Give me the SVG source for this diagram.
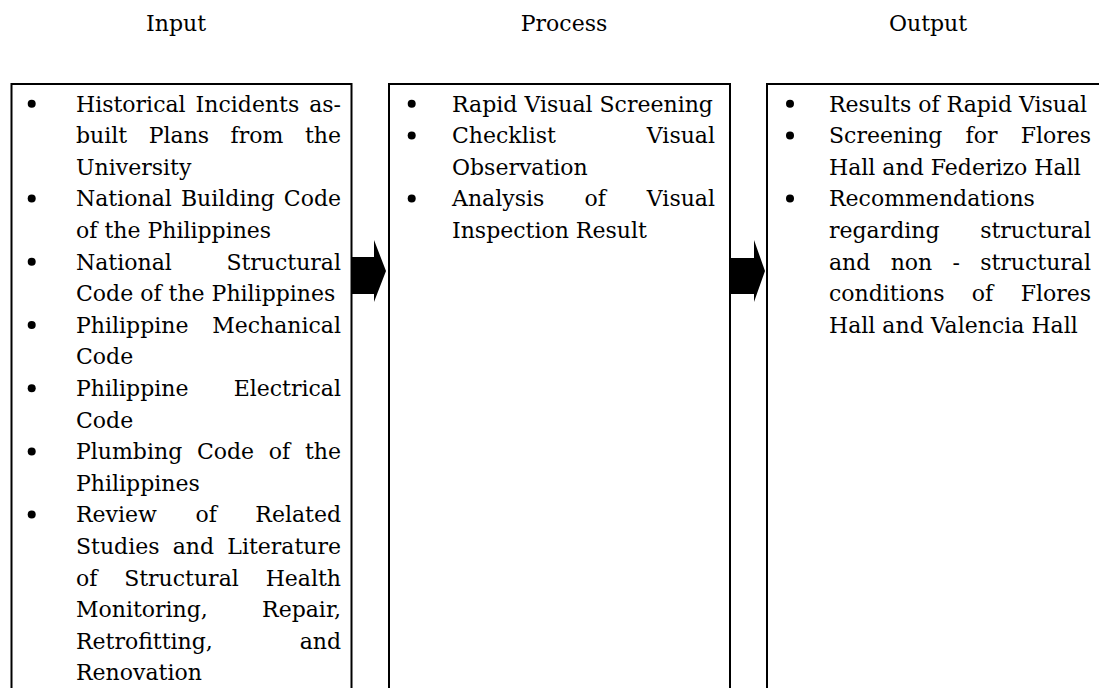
<svg xmlns="http://www.w3.org/2000/svg" width="1099" height="688" viewBox="0 0 1099 688">
<style>
.t{font-family:"DejaVu Serif","Liberation Serif",serif;font-size:22px;fill:#000}
.h{font-family:"DejaVu Serif","Liberation Serif",serif;font-size:22px;fill:#000;text-anchor:middle}
.e{text-anchor:end}
.box{fill:#fff;stroke:#000;stroke-width:2}
.b{fill:#000}
.arr{fill:#000}
</style>
<rect width="1099" height="688" fill="#fff"/>
<g id="headers">
<text class="h" x="176" y="31">Input</text>
<text class="h" x="564" y="31">Process</text>
<text class="h" x="928" y="31">Output</text>
</g>
<g id="input">
<rect class="box" x="11.5" y="84" width="340" height="620"/>
<circle class="b" cx="31.7" cy="103.8" r="4"/>
<circle class="b" cx="31.7" cy="198.6" r="4"/>
<circle class="b" cx="31.7" cy="261.8" r="4"/>
<circle class="b" cx="31.7" cy="325" r="4"/>
<circle class="b" cx="31.7" cy="388.2" r="4"/>
<circle class="b" cx="31.7" cy="451.4" r="4"/>
<circle class="b" cx="31.7" cy="514.6" r="4"/>
<text class="t" x="76" y="111.5">Historical</text><text class="t" x="195.6" y="111.5">Incidents</text><text class="t e" x="341" y="111.5">as-</text>
<text class="t" x="76" y="143.1">built</text><text class="t" x="148.7" y="143.1">Plans</text><text class="t" x="230.6" y="143.1">from</text><text class="t e" x="341" y="143.1">the</text>
<text class="t" x="76" y="174.7">University</text>
<text class="t" x="76" y="206.3">National</text><text class="t" x="180.9" y="206.3">Building</text><text class="t e" x="341" y="206.3">Code</text>
<text class="t" x="76" y="237.9">of the Philippines</text>
<text class="t" x="76" y="269.5">National</text><text class="t e" x="341" y="269.5">Structural</text>
<text class="t" x="76" y="301.1">Code of the Philippines</text>
<text class="t" x="76" y="332.7">Philippine</text><text class="t e" x="341" y="332.7">Mechanical</text>
<text class="t" x="76" y="364.3">Code</text>
<text class="t" x="76" y="395.9">Philippine</text><text class="t e" x="341" y="395.9">Electrical</text>
<text class="t" x="76" y="427.5">Code</text>
<text class="t" x="76" y="459.1">Plumbing</text><text class="t" x="196.9" y="459.1">Code</text><text class="t" x="268.8" y="459.1">of</text><text class="t e" x="341" y="459.1">the</text>
<text class="t" x="76" y="490.7">Philippines</text>
<text class="t" x="76" y="522.3">Review</text><text class="t" x="195.4" y="522.3">of</text><text class="t e" x="341" y="522.3">Related</text>
<text class="t" x="76" y="553.9">Studies</text><text class="t" x="172.7" y="553.9">and</text><text class="t e" x="341" y="553.9">Literature</text>
<text class="t" x="76" y="585.5">of</text><text class="t" x="124.2" y="585.5">Structural</text><text class="t e" x="341" y="585.5">Health</text>
<text class="t" x="76" y="617.1">Monitoring,</text><text class="t e" x="341" y="617.1">Repair,</text>
<text class="t" x="76" y="648.7">Retrofitting,</text><text class="t e" x="341" y="648.7">and</text>
<text class="t" x="76" y="680.3">Renovation</text>
</g>
<g id="process">
<rect class="box" x="389" y="84" width="341" height="620"/>
<circle class="b" cx="411.7" cy="103.8" r="4"/>
<circle class="b" cx="411.7" cy="135.4" r="4"/>
<circle class="b" cx="411.7" cy="198.6" r="4"/>
<text class="t" x="452" y="111.5">Rapid Visual Screening</text>
<text class="t" x="452" y="143.1">Checklist</text><text class="t e" x="715" y="143.1">Visual</text>
<text class="t" x="452" y="174.7">Observation</text>
<text class="t" x="452" y="206.3">Analysis</text><text class="t" x="584.6" y="206.3">of</text><text class="t e" x="715" y="206.3">Visual</text>
<text class="t" x="452" y="237.9">Inspection Result</text>
</g>
<g id="output">
<rect class="box" x="767" y="84" width="340" height="620"/>
<circle class="b" cx="790" cy="103.8" r="4"/>
<circle class="b" cx="790" cy="135.4" r="4"/>
<circle class="b" cx="790" cy="198.6" r="4"/>
<text class="t" x="829" y="111.5">Results of Rapid Visual</text>
<text class="t" x="829" y="143.1">Screening</text><text class="t" x="965.6" y="143.1">for</text><text class="t e" x="1091" y="143.1">Flores</text>
<text class="t" x="829" y="174.7">Hall and Federizo Hall</text>
<text class="t" x="829" y="206.3">Recommendations</text>
<text class="t" x="829" y="237.9">regarding</text><text class="t e" x="1091" y="237.9">structural</text>
<text class="t" x="829" y="269.5">and</text><text class="t" x="890.7" y="269.5">non</text><text class="t" x="952.6" y="269.5">-</text><text class="t e" x="1091" y="269.5">structural</text>
<text class="t" x="829" y="301.1">conditions</text><text class="t" x="971.8" y="301.1">of</text><text class="t e" x="1091" y="301.1">Flores</text>
<text class="t" x="829" y="332.7">Hall and Valencia Hall</text>
</g>
<g id="connectors">
<polygon class="arr" points="352,257 374,257 374,240 386,271 374,302 374,294 352,294"/>
<polygon class="arr" points="731,258 754,258 754,240 765,271 754,302 754,294 731,294"/>
</g>
</svg>
